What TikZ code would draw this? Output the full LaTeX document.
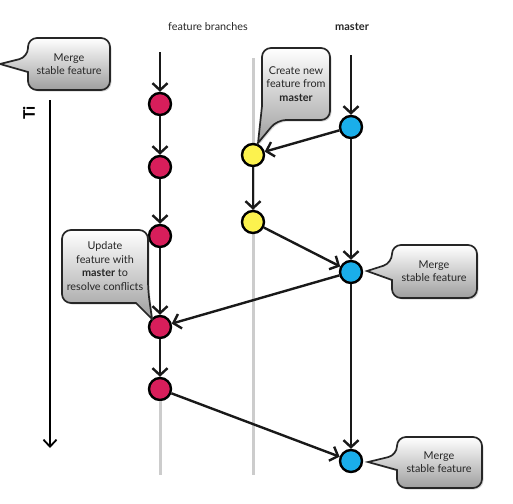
\documentclass[tikz,border=0pt]{standalone}
\usepackage{fontspec}
\setmainfont{Lato}
\usetikzlibrary{arrows.meta,shadows}
\definecolor{cred}{HTML}{D81E5B}
\definecolor{cyel}{HTML}{FCF24E}
\definecolor{cblu}{HTML}{1AAEEA}
\begin{document}
\begin{tikzpicture}[x=1pt,y=-1pt,
  commit/.style={circle,draw=black,line width=2.4pt,minimum size=22pt,inner sep=0pt},
  flow/.style={line width=2.4pt,draw=black!90,-{Straight Barb[length=7pt,width=15pt]}},
  track/.style={line width=3pt,draw=black!20},
  bubble/.style={draw=black!85,line width=1.7pt,top color=white,bottom color=black!38,
    drop shadow={opacity=0.3,shadow xshift=1.5pt,shadow yshift=-1.5pt}},
  btext/.style={align=center,font=\fontsize{10.8}{13.5}\selectfont,text=black!85},
  lbl/.style={font=\fontsize{10.8}{12}\selectfont,text=black!85}]
\useasboundingbox (0,0) rectangle (513,503);

% headings
\node[lbl] (hfeat) at (208,27) {feature branches};
\node[lbl,font=\bfseries\fontsize{11}{12}\selectfont] (hmast) at (352,27) {master};

% time axis
\coordinate (t0) at (50,100);
\coordinate (t1) at (50,448);
\draw[line width=1.8pt,-{Straight Barb[length=7pt,width=13pt]}] (t0) -- (t1);
\node[rotate=90,font=\bfseries\fontsize{16}{16}\selectfont] (ti) at (29,113) {Ti};

% grey tracks
\coordinate (ytop) at (253,58);
\coordinate (ybot) at (253,475);
\coordinate (rbot) at (160,475);
\draw[track] (ytop) -- (ybot);

% commits
\node[commit,fill=cred] (r1) at (160,104) {};
\node[commit,fill=cred] (r2) at (160,167) {};
\node[commit,fill=cred] (r3) at (160,236) {};
\node[commit,fill=cred] (r4) at (160,327) {};
\node[commit,fill=cred] (r5) at (160,389) {};
\node[commit,fill=cyel] (y1) at (253,155) {};
\node[commit,fill=cyel] (y2) at (253,222) {};
\node[commit,fill=cblu] (b1) at (351,127) {};
\node[commit,fill=cblu] (b2) at (351,272) {};
\node[commit,fill=cblu] (b3) at (351,461) {};

\draw[track] (r5) -- (rbot);

\coordinate (rtop) at (160,52);
\coordinate (btop) at (351,55);
\draw[flow] (rtop) -- (r1);
\draw[flow] (r1) -- (r2);
\draw[flow] (r2) -- (r3);
\draw[flow] (r3) -- (r4);
\draw[flow] (r4) -- (r5);
\draw[flow] (btop) -- (b1);
\draw[flow] (b1) -- (b2);
\draw[flow] (b2) -- (b3);
\draw[flow] (b1) -- (y1);
\draw[flow] (y1) -- (y2);
\draw[flow] (y2) -- (b2);
\draw[flow] (b2) -- (r4);
\draw[flow] (r5) -- (b3);

% bubbles
\draw[bubble] (28,57) [sharp corners] -- (0,64) -- (28,72) [rounded corners=9pt] -- (28,90) -- (110,90) -- (110,38) -- (28,38) -- cycle;
\node[btext] (n1) at (69,64) {Merge\\stable feature};

\draw[bubble] (277,120) [sharp corners] -- (258,143) -- (262,106) [rounded corners=9pt] -- (262,48) -- (330,48) -- (330,120) -- cycle;
\node[btext] (n2) at (296,84) {Create new\\feature from\\\textbf{master}};

\draw[bubble] (392,263) [sharp corners] -- (367,271) -- (392,280) [rounded corners=9pt] -- (392,298) -- (477,298) -- (477,245) -- (392,245) -- cycle;
\node[btext] (n3) at (434,271) {Merge\\stable feature};

\draw[bubble] (148,290) [sharp corners] -- (152,319) -- (136,303) [rounded corners=9pt] -- (62,303) -- (62,230) -- (148,230) -- cycle;
\node[btext] (n4) at (105,266) {Update\\feature with\\\textbf{master} to\\resolve conflicts};

\draw[bubble] (397,455) [sharp corners] -- (368,462) -- (397,470) [rounded corners=9pt] -- (397,488) -- (482,488) -- (482,437) -- (397,437) -- cycle;
\node[btext] (n5) at (439,462) {Merge\\stable feature};
\end{tikzpicture}
\end{document}
